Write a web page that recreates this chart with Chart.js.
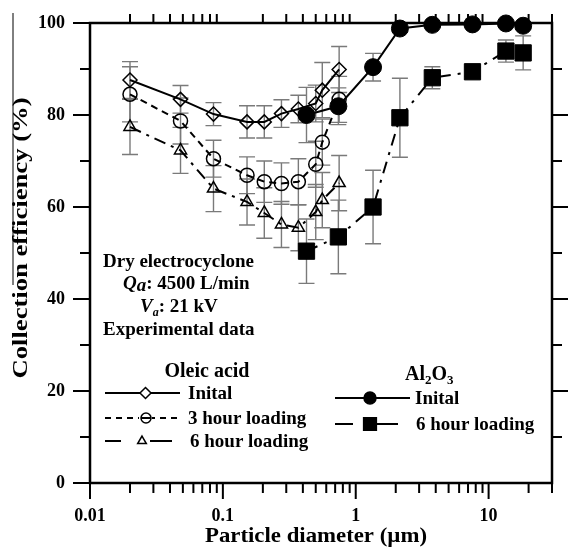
<!DOCTYPE html>
<html>
<head>
<meta charset="utf-8">
<script src="https://cdn.jsdelivr.net/npm/chart.js@4"></script>
<style>
  html, body { margin: 0; padding: 0; background: #fff; }
</style>
</head>
<body>
<canvas id="effChart" width="568" height="552"></canvas>
<script>
// particle diameters (um)
const oleicSizes = [0.02, 0.048, 0.085, 0.152, 0.205, 0.276, 0.37, 0.5, 0.56, 0.75];
const aluminaSizes = [0.426, 0.74, 1.35, 2.15, 3.77, 7.56, 13.5, 18.2];

// collection efficiency (%)
const oleicInitial = [87.6, 83.4, 80.2, 78.5, 78.5, 80.3, 81.3, 82.5, 85.4, 89.9];
const oleic3h = [84.5, 78.7, 70.5, 66.9, 65.5, 65.1, 65.5, 69.3, 74.1, 83.4];
const oleic6h = [77.4, 72.3, 64.0, 61.1, 58.7, 56.2, 55.5, 58.9, 61.5, 65.2];
const aluminaInitial = [80.0, 81.9, 90.4, 98.8, 99.6, 99.7, 99.9, 99.4];
const alumina6h = [50.4, 53.5, 60.0, 79.4, 88.1, 89.4, 93.9, 93.5];

// error bar half-widths
const oleicInitialErr = [4, 3, 2.5, 3.5, 3.5, 3, 3, 4, 6, 5];
const oleic3hErr = [6, 5, 4, 4, 4.5, 4.5, 5, 5, 5, 5];
const oleic6hErr = [6, 5, 5, 5, 5.5, 5, 5, 6, 6, 6];
const aluminaInitialErr = [6, 4, 3, 0.8, 0.5, 0.5, 0.5, 0.8];
const alumina6hErr = [7, 8, 8, 8.6, 2.4, 1, 2.4, 3.7];

const xTickValues = [0.01, 0.1, 1, 10];
const yTickValues = [0, 20, 40, 60, 80, 100];

const SERIF = '"Liberation Serif", "DejaVu Serif", serif';
const bold = size => 'bold ' + size + 'px ' + SERIF;
const boldItalic = size => 'italic bold ' + size + 'px ' + SERIF;

function points(xs, ys) {
    return xs.map((v, i) => ({ x: v, y: ys[i] }));
}

function marker(ctx, style, x, y, r, filled) {
    ctx.save();
    ctx.lineWidth = 1.5;
    ctx.strokeStyle = '#000';
    ctx.fillStyle = '#000';
    ctx.beginPath();
    if (style === 'circle') {
        ctx.arc(x, y, r, 0, Math.PI * 2);
    } else if (style === 'rect') {
        const h = r * Math.SQRT1_2;
        ctx.rect(x - h, y - h, 2 * h, 2 * h);
    } else if (style === 'rectRot') {
        ctx.moveTo(x, y - r); ctx.lineTo(x + r, y); ctx.lineTo(x, y + r); ctx.lineTo(x - r, y);
        ctx.closePath();
    } else if (style === 'triangle') {
        ctx.moveTo(x, y - r);
        ctx.lineTo(x + r * 0.866, y + r * 0.5);
        ctx.lineTo(x - r * 0.866, y + r * 0.5);
        ctx.closePath();
    }
    if (filled) ctx.fill();
    ctx.stroke();
    ctx.restore();
}

// draw text pieces one after another (for italics / subscripts)
function runs(ctx, x, y, parts) {
    parts.forEach(p => {
        ctx.font = p.font;
        ctx.fillText(p.t, x, y + (p.dy || 0));
        x += ctx.measureText(p.t).width;
    });
}

// squeeze or stretch a text to a wanted width
function fitText(ctx, text, cx, cy, width, rotate) {
    const w = ctx.measureText(text).width;
    ctx.save();
    ctx.translate(cx, cy);
    if (rotate) ctx.rotate(-Math.PI / 2);
    ctx.scale(width / w, 1);
    ctx.textAlign = 'center';
    ctx.textBaseline = 'middle';
    ctx.fillText(text, 0, 0);
    ctx.restore();
}

const errorBars = {
    id: 'errorBars',
    beforeDatasetsDraw(chart) {
        const ctx = chart.ctx;
        const yScale = chart.scales.y;
        ctx.save();
        ctx.strokeStyle = '#7a7a7a';
        ctx.lineWidth = 1.4;
        chart.data.datasets.forEach((ds, i) => {
            const meta = chart.getDatasetMeta(i);
            meta.data.forEach((pt, j) => {
                const v = ds.data[j].y, e = ds.errors[j];
                const top = yScale.getPixelForValue(v + e);
                const bot = yScale.getPixelForValue(v - e);
                ctx.beginPath();
                ctx.moveTo(pt.x, top); ctx.lineTo(pt.x, bot);
                ctx.moveTo(pt.x - 8, top); ctx.lineTo(pt.x + 8, top);
                ctx.moveTo(pt.x - 8, bot); ctx.lineTo(pt.x + 8, bot);
                ctx.stroke();
            });
        });
        ctx.restore();
    }
};

const frame = {
    id: 'frame',
    beforeDatasetsDraw(chart) {
        const { ctx, chartArea: a, scales: { x, y } } = chart;
        ctx.save();
        ctx.strokeStyle = '#000';
        ctx.lineWidth = 2.5;
        ctx.strokeRect(a.left, a.top, a.right - a.left, a.bottom - a.top);
        ctx.lineWidth = 2;
        ctx.beginPath();
        for (let v = 0; v <= 100; v += 10) {
            const py = y.getPixelForValue(v);
            const len = v % 20 === 0 ? 17 : 10;
            ctx.moveTo(a.left - len, py); ctx.lineTo(a.left, py);
            if (v > 0 && v < 100) { ctx.moveTo(a.right, py); ctx.lineTo(a.right + len, py); }
        }
        xTickValues.forEach(d => {
            for (let m = 1; m <= 9; m++) {
                const v = d * m;
                if (v > x.max * 1.0001) break;
                const px = x.getPixelForValue(v);
                ctx.moveTo(px, a.bottom); ctx.lineTo(px, a.bottom + (m === 1 ? 16 : 10));
                if (m > 1) { ctx.moveTo(px, a.top); ctx.lineTo(px, a.top - 9); }
            }
        });
        ctx.stroke();

        // stray line left of the y title in the original
        ctx.lineWidth = 1;
        ctx.beginPath();
        ctx.moveTo(13, 13); ctx.lineTo(13, 285);
        ctx.stroke();

        // axis titles
        ctx.fillStyle = '#000';
        ctx.font = bold(21);
        fitText(ctx, 'Particle diameter (\u00b5m)', 316, 537, 222, false);
        ctx.font = bold(22);
        fitText(ctx, 'Collection efficiency (%)', 21, 238, 281, true);
        ctx.restore();
    }
};

const notes = {
    id: 'notes',
    afterDraw(chart) {
        const ctx = chart.ctx;
        ctx.save();
        ctx.fillStyle = '#000';
        ctx.textBaseline = 'alphabetic';
        ctx.textAlign = 'left';

        runs(ctx, 103, 267, [{ t: 'Dry electrocyclone', font: bold(19) }]);
        runs(ctx, 123, 289, [
            { t: 'Q', font: boldItalic(19) },
            { t: 'a', font: boldItalic(19), dy: 2 },
            { t: ': 4500 L/min', font: bold(19) }
        ]);
        runs(ctx, 140, 312, [
            { t: 'V', font: boldItalic(19) },
            { t: 'a', font: boldItalic(12), dy: 4 },
            { t: ': 21 kV', font: bold(19) }
        ]);
        runs(ctx, 103, 335, [{ t: 'Experimental data', font: bold(19) }]);

        // legend: oleic acid
        ctx.font = bold(20);
        ctx.textAlign = 'center';
        ctx.fillText('Oleic acid', 207, 377);
        ctx.textAlign = 'left';
        ctx.textBaseline = 'middle';
        ctx.strokeStyle = '#000';
        ctx.lineWidth = 2;

        let ly = 393;
        ctx.beginPath(); ctx.moveTo(105, ly); ctx.lineTo(140, ly); ctx.moveTo(151, ly); ctx.lineTo(180, ly); ctx.stroke();
        marker(ctx, 'rectRot', 145.5, ly, 5.5, false);
        ctx.font = bold(19);
        ctx.fillText('Inital', 188, ly + 1);

        ly = 418;
        ctx.save();
        ctx.setLineDash([6, 5]);
        ctx.beginPath(); ctx.moveTo(105, ly); ctx.lineTo(180, ly); ctx.stroke();
        ctx.restore();
        ctx.fillStyle = '#fff';
        ctx.fillRect(139, ly - 6, 13, 12);
        ctx.fillStyle = '#000';
        marker(ctx, 'circle', 146, ly, 5, false);
        ctx.beginPath(); ctx.moveTo(141, ly); ctx.lineTo(151, ly); ctx.stroke();
        ctx.fillText('3 hour loading', 188, ly + 1);

        ly = 441;
        ctx.beginPath(); ctx.moveTo(105, ly); ctx.lineTo(121, ly); ctx.moveTo(150, ly); ctx.lineTo(172, ly); ctx.stroke();
        marker(ctx, 'triangle', 142, ly, 5, false);
        ctx.fillText('6 hour loading', 190, ly + 1);

        // legend: Al2O3
        ctx.textBaseline = 'alphabetic';
        runs(ctx, 405, 380, [
            { t: 'Al', font: bold(20) },
            { t: '2', font: bold(13), dy: 4 },
            { t: 'O', font: bold(20) },
            { t: '3', font: bold(13), dy: 4 }
        ]);
        ctx.textBaseline = 'middle';
        ctx.font = bold(19);

        ly = 398;
        ctx.beginPath(); ctx.moveTo(335, ly); ctx.lineTo(410, ly); ctx.stroke();
        marker(ctx, 'circle', 370, ly, 6, true);
        ctx.fillText('Inital', 415, ly + 1);

        ly = 424;
        ctx.beginPath(); ctx.moveTo(335, ly); ctx.lineTo(353, ly); ctx.moveTo(377, ly); ctx.lineTo(398, ly); ctx.stroke();
        marker(ctx, 'rect', 370, ly, 9, true);
        ctx.fillText('6 hour loading', 416, ly + 1);
        ctx.restore();
    }
};

const tickFont = { family: SERIF, size: 18, weight: 'bold' };

new Chart(document.getElementById('effChart').getContext('2d'), {
    type: 'line',
    data: {
        datasets: [
            {
                label: 'Oleic acid - Inital',
                data: points(oleicSizes, oleicInitial),
                errors: oleicInitialErr,
                borderColor: '#000', borderWidth: 2,
                pointStyle: 'rectRot', pointRadius: 7, pointBorderWidth: 1.5,
                pointBorderColor: '#000', pointBackgroundColor: 'rgba(255,255,255,0)'
            },
            {
                label: 'Oleic acid - 3 hour loading',
                data: points(oleicSizes, oleic3h),
                errors: oleic3hErr,
                borderColor: '#000', borderWidth: 2, borderDash: [7, 5],
                pointStyle: 'circle', pointRadius: 7, pointBorderWidth: 1.5,
                pointBorderColor: '#000', pointBackgroundColor: 'rgba(255,255,255,0)'
            },
            {
                label: 'Oleic acid - 6 hour loading',
                data: points(oleicSizes, oleic6h),
                errors: oleic6hErr,
                borderColor: '#000', borderWidth: 2, borderDash: [12, 6, 3, 6],
                pointStyle: 'triangle', pointRadius: 7, pointBorderWidth: 1.5,
                pointBorderColor: '#000', pointBackgroundColor: 'rgba(255,255,255,0)'
            },
            {
                label: 'Al2O3 - Inital',
                data: points(aluminaSizes, aluminaInitial),
                errors: aluminaInitialErr,
                clip: false,
                borderColor: '#000', borderWidth: 2,
                pointStyle: 'circle', pointRadius: 8.5, pointBorderWidth: 1,
                pointBorderColor: '#000', pointBackgroundColor: '#000'
            },
            {
                label: 'Al2O3 - 6 hour loading',
                data: points(aluminaSizes, alumina6h),
                errors: alumina6hErr,
                clip: false,
                borderColor: '#000', borderWidth: 2, borderDash: [12, 7, 3, 7],
                pointStyle: 'rect', pointRadius: 11.5, pointBorderWidth: 1,
                pointBorderColor: '#000', pointBackgroundColor: '#000'
            }
        ]
    },
    options: {
        responsive: false,
        animation: false,
        layout: { padding: { top: 23, right: 16, left: 0, bottom: 0 } },
        plugins: {
            legend: { display: false },
            tooltip: { enabled: false }
        },
        scales: {
            x: {
                type: 'logarithmic',
                min: 0.01,
                max: 30,
                afterBuildTicks: s => { s.ticks = xTickValues.map(v => ({ value: v, major: true })); },
                afterFit: s => { s.height = 69; },
                grid: { display: true, drawOnChartArea: false, drawTicks: true, tickLength: 16, color: 'rgba(0,0,0,0)' },
                border: { display: false },
                ticks: {
                    font: tickFont, color: '#000', padding: 7,
                    autoSkip: false, maxRotation: 0,
                    callback: v => String(v)
                }
            },
            y: {
                min: 0,
                max: 100,
                afterBuildTicks: s => { s.ticks = yTickValues.map(v => ({ value: v })); },
                afterFit: s => { s.width = 90; },
                grid: { display: true, drawOnChartArea: false, drawTicks: true, tickLength: 17, color: 'rgba(0,0,0,0)' },
                border: { display: false },
                ticks: { font: tickFont, color: '#000', padding: 8 }
            }
        }
    },
    plugins: [errorBars, frame, notes]
});
</script>
</body>
</html>
